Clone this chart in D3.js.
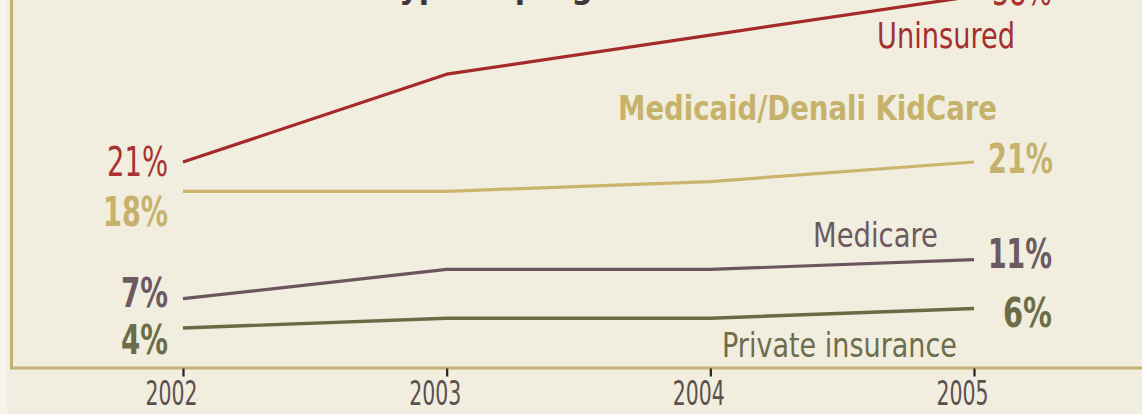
<!DOCTYPE html>
<html>
<head>
<meta charset="utf-8">
<script src="https://cdn.jsdelivr.net/npm/d3@7"></script>
<style>
  html, body { margin: 0; padding: 0; background: #f1eddf; }
  svg { display: block; }
  text { font-family: "Liberation Sans Narrow", "DejaVu Sans Condensed", "Liberation Sans", sans-serif; }
</style>
</head>
<body>
<svg id="chart" width="1142" height="414"></svg>
<script>
// Years on the x axis
const years = [2002, 2003, 2004, 2005];
const yearLabels = ["2002", "2003", "2004", "2005"];

// Share of children by coverage type (percent)
const uninsured = [21, 30, 34, 38];
const medicaid  = [18, 18, 19, 21];
const medicare  = [7, 10, 10, 11];
const privateIns = [4, 5, 5, 6];

const seriesNames = ["Uninsured", "Medicaid/Denali KidCare", "Medicare", "Private insurance"];

const W = 1142, H = 414;
const svg = d3.select("#chart");

const x = d3.scaleLinear().domain([2002, 2005]).range([183, 974]);
const y = d3.scaleLinear().domain([0, 38]).range([367, -3.9]);

// Page and frame
svg.append("rect").attr("x", 0).attr("y", 0).attr("width", W).attr("height", H).attr("fill", "#f1eddf");
svg.append("rect").attr("x", 0).attr("y", 0).attr("width", 7).attr("height", H).attr("fill", "#f6f3ea");

// Title (runs above the visible area, only its descenders show)
svg.append("text")
  .attr("x", 385).attr("y", -2)
  .attr("font-size", 34).attr("font-weight", "bold")
  .attr("fill", "#3f3838")
  .attr("textLength", 274)
  .attr("lengthAdjust", "spacingAndGlyphs")
  .text("type of program");

// Frame: left rule and bottom axis rule
svg.append("line").attr("x1", 11.5).attr("x2", 11.5).attr("y1", 0).attr("y2", y(0) + 1.5)
  .attr("stroke", "#c2b372").attr("stroke-width", 3);
svg.append("line").attr("x1", 10).attr("x2", W).attr("y1", y(0) + 1).attr("y2", y(0) + 1)
  .attr("stroke", "#c2b372").attr("stroke-width", 3);

// Year ticks and labels
const axis = d3.axisBottom(x)
  .tickValues(years)
  .tickFormat((d, i) => yearLabels[i])
  .tickSize(8)
  .tickPadding(5);
const gAxis = svg.append("g").attr("transform", `translate(0,${y(0) + 1.5})`).call(axis);
gAxis.select(".domain").remove();
gAxis.selectAll(".tick line").attr("stroke", "#2b2222").attr("stroke-width", 2.2);
gAxis.selectAll(".tick text")
  .attr("fill", "#5b5050")
  .attr("font-size", 33)
  .attr("font-family", "\"Liberation Sans Narrow\", \"DejaVu Sans Condensed\", sans-serif")
  .attr("textLength", 52)
  .attr("lengthAdjust", "spacingAndGlyphs")
  .attr("dx", -12)
  .attr("dy", "0.71em");

// Lines
const series = [
  { name: seriesNames[0], values: uninsured, color: "#a52b2a", width: 3.2 },
  { name: seriesNames[1], values: medicaid,  color: "#c9b56c", width: 3.2 },
  { name: seriesNames[2], values: medicare,  color: "#6b5660", width: 3.2 },
  { name: seriesNames[3], values: privateIns, color: "#6a6a44", width: 3.4 }
];

const line = d3.line().x((d, i) => x(years[i])).y(d => y(d));
svg.append("g").selectAll("path")
  .data(series)
  .join("path")
  .attr("d", d => line(d.values))
  .attr("fill", "none")
  .attr("stroke", d => d.color)
  .attr("stroke-width", d => d.width)
  .attr("stroke-linejoin", "round");

// Value labels at each end of the lines
const fmt = v => `${v}%`;
const endLabels = [
  // [series index, point index, x offset, baseline shift, width, weight, color]
  [0, 0, -15, 14, 61, "normal", "#a8322f"],
  [1, 0, -15, 35, 65, "bold", "#c6b26a"],
  [2, 0, -15, 8, 47, "bold", "#6c5a60"],
  [3, 0, -15, 26, 47, "bold", "#6c6c48"],
  [0, 3, 78, 9, 60, "normal", "#a8322f"],
  [1, 3, 79, 11, 65, "bold", "#c6b26a"],
  [2, 3, 78, 8, 64, "bold", "#6c5a60"],
  [3, 3, 78, 19, 49, "bold", "#6c6c48"]
];
svg.append("g").selectAll("text")
  .data(endLabels)
  .join("text")
  .attr("x", d => x(years[d[1]]) + d[2])
  .attr("y", d => y(series[d[0]].values[d[1]]) + d[3])
  .attr("text-anchor", "end")
  .attr("font-size", 40)
  .attr("font-weight", d => d[5])
  .attr("fill", d => d[6])
  .attr("textLength", d => d[4])
  .attr("lengthAdjust", "spacingAndGlyphs")
  .text(d => fmt(series[d[0]].values[d[1]]));

// Series names
const nameLabels = [
  // [series index, x, baseline, width, size, weight, color]
  [0, 877, 48, 138, 35, "normal", "#a3302e"],
  [1, 618, 120, 379, 33, "bold", "#c6b26a"],
  [2, 813, 247, 125, 34, "normal", "#6c5a60"],
  [3, 722, 357, 235, 34, "normal", "#6e6d4b"]
];
svg.append("g").selectAll("text")
  .data(nameLabels)
  .join("text")
  .attr("x", d => d[1])
  .attr("y", d => d[2])
  .attr("font-size", d => d[4])
  .attr("font-weight", d => d[5])
  .attr("fill", d => d[6])
  .attr("textLength", d => d[3])
  .attr("lengthAdjust", "spacingAndGlyphs")
  .text(d => series[d[0]].name);
</script>
</body>
</html>
